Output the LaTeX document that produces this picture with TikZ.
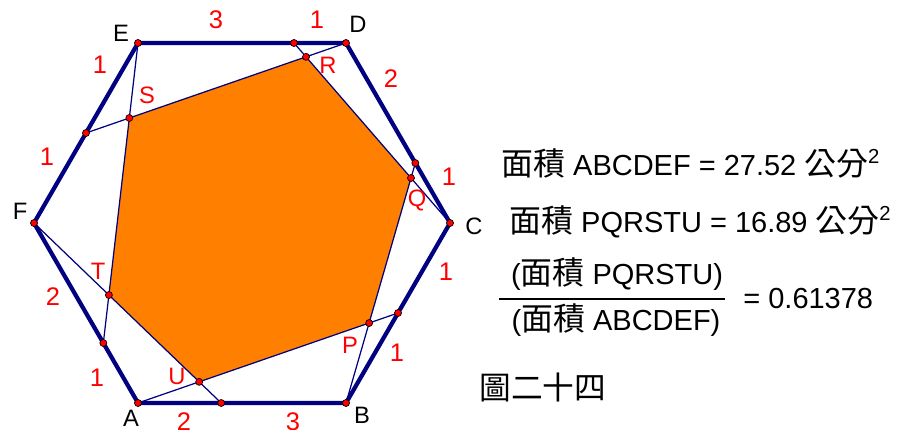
\documentclass[tikz,border=0pt]{standalone}
\usepackage{fontspec}
\setmainfont{Liberation Sans}
\newfontfamily\cjk[Scale=1.1]{Noto Sans CJK TC}
\usepackage{tikz}
\usetikzlibrary{calc}

\definecolor{hexblue}{RGB}{0,0,128}
\definecolor{fillorange}{RGB}{255,128,0}

\begin{document}
\begin{tikzpicture}[x=0.02cm, y=-0.02cm,
  side/.style={draw=hexblue, line width=2.4pt, line join=round},
  cev/.style={draw=hexblue, line width=0.7pt},
  dot/.style={circle, fill=red, draw=black, line width=0.4pt,
    inner sep=0pt, minimum size=1.4mm},
  vlab/.style={font=\fontsize{13.5}{16}\selectfont, text=black},
  plab/.style={font=\fontsize{13.5}{16}\selectfont, text=red},
  seg/.style={font=\fontsize{14.5}{16}\selectfont, text=red},
  eqline/.style={font=\fontsize{16.5}{19}\selectfont, anchor=base west, inner sep=0pt},
]
\useasboundingbox (0,0) rectangle (901,429);

%% Outer hexagon
\coordinate (A) at (138,403);
\coordinate (B) at (346,403);
\coordinate (C) at (450,223);
\coordinate (D) at (346,43);
\coordinate (E) at (138,43);
\coordinate (F) at (34,223);

%% Points on the sides
\coordinate (Mab) at ($(A)!0.4!(B)$);
\coordinate (Mbc) at ($(B)!0.5!(C)$);
\coordinate (Mcd) at ($(C)!0.3333!(D)$);
\coordinate (Mde) at ($(D)!0.25!(E)$);
\coordinate (Mef) at ($(E)!0.5!(F)$);
\coordinate (Mfa) at ($(F)!0.6667!(A)$);

%% Inner hexagon
\coordinate (P) at (intersection of A--Mbc and B--Mcd);
\coordinate (Q) at (intersection of B--Mcd and C--Mde);
\coordinate (R) at (intersection of C--Mde and D--Mef);
\coordinate (S) at (intersection of D--Mef and E--Mfa);
\coordinate (T) at (intersection of E--Mfa and F--Mab);
\coordinate (U) at (intersection of F--Mab and A--Mbc);

\fill[fillorange] (P) -- (Q) -- (R) -- (S) -- (T) -- (U) -- cycle;

\draw[cev] (A) -- (Mbc);
\draw[cev] (B) -- (Mcd);
\draw[cev] (C) -- (Mde);
\draw[cev] (D) -- (Mef);
\draw[cev] (E) -- (Mfa);
\draw[cev] (F) -- (Mab);

\draw[side] (A) -- (B) -- (C) -- (D) -- (E) -- (F) -- cycle;

\foreach \p in {A,B,C,D,E,F,Mab,Mbc,Mcd,Mde,Mef,Mfa,P,Q,R,S,T,U}
  \node[dot] (d\p) at (\p) {};

%% Vertex labels
\node[vlab] (lA) at (131,418) {A};
\node[vlab] (lB) at (362,415) {B};
\node[vlab] (lC) at (474,226) {C};
\node[vlab] (lD) at (358,24) {D};
\node[vlab] (lE) at (121,33) {E};
\node[vlab] (lF) at (20,211) {F};

\node[plab] (lP) at (350,345) {P};
\node[plab] (lQ) at (417,200) {Q};
\node[plab] (lR) at (328,65) {R};
\node[plab] (lS) at (147,95) {S};
\node[plab] (lT) at (98,271) {T};
\node[plab] (lU) at (177,376) {U};

%% Side ratios
\node[seg] (nab1) at (184,422) {2};
\node[seg] (nab2) at (293,422) {3};
\node[seg] (nbc1) at (397,353) {1};
\node[seg] (nbc2) at (446,272) {1};
\node[seg] (ncd1) at (449,177) {1};
\node[seg] (ncd2) at (391,79) {2};
\node[seg] (nde1) at (317,20) {1};
\node[seg] (nde2) at (216,20) {3};
\node[seg] (nef1) at (100,65) {1};
\node[seg] (nef2) at (47,157) {1};
\node[seg] (nfa1) at (53,297) {2};
\node[seg] (nfa2) at (97,378) {1};

%% Areas
\node[eqline] (areaA) at (501,175)
  {{\cjk 面積} ABCDEF = 27.52 {\cjk 公分}\textsuperscript{2}};
\node[eqline] (areaP) at (509,232)
  {{\cjk 面積} PQRSTU = 16.89 {\cjk 公分}\textsuperscript{2}};
\node[eqline, anchor=base] (fnum) at (617,284) {({\cjk 面積} PQRSTU)};
\node[eqline, anchor=base] (fden) at (616,330) {({\cjk 面積} ABCDEF)};
\draw[line width=0.6pt] (499,299) -- (725,299);
\node[eqline] (ratio) at (743,308) {= 0.61378};

\node[font=\fontsize{16.4}{19}\selectfont, anchor=base west, inner sep=0pt] (title)
  at (479,399) {\cjk 圖二十四};

\end{tikzpicture}
\end{document}
